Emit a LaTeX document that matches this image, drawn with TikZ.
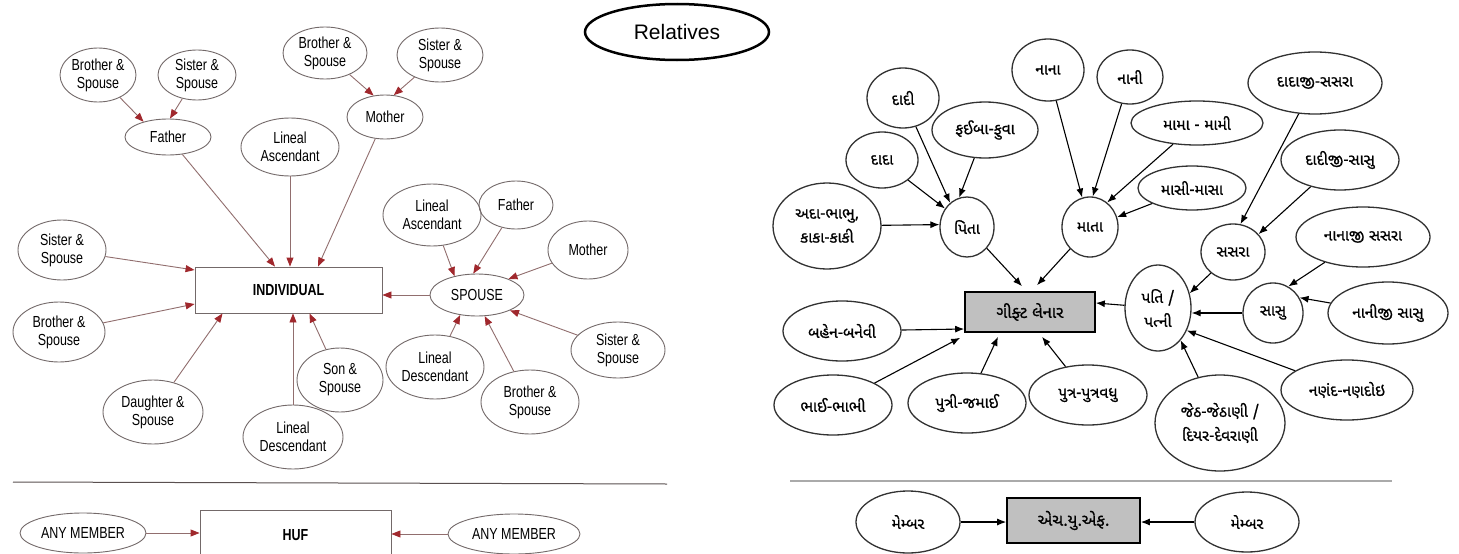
\documentclass[tikz,border=0pt]{standalone}
\usepackage{fontspec}
\usetikzlibrary{shapes.geometric,arrows.meta,calc}
\setmainfont{Liberation Sans}
\newfontfamily\narrowf[FakeStretch=0.78]{Liberation Sans}
\newfontfamily\guj[Script=Gujarati,FakeBold=0.8]{Noto Sans Gujarati UI}
\definecolor{lgrey}{RGB}{115,105,105}
\definecolor{lline}{RGB}{145,110,110}
\definecolor{tipred}{RGB}{160,40,45}
\definecolor{rgrey}{RGB}{50,50,50}
\definecolor{boxfill}{RGB}{192,192,192}
\definecolor{sepl}{RGB}{90,80,80}
\definecolor{sepr}{RGB}{170,170,170}
\tikzset{
  lell/.style={ellipse, draw=lgrey, line width=0.9pt, inner sep=0pt, align=center,
    font=\narrowf\fontsize{16}{18}\selectfont},
  lbox/.style={rectangle, draw=lgrey, line width=0.9pt, inner sep=0pt,
    font=\narrowf\bfseries\fontsize{16}{18}\selectfont},
  larr/.style={draw=lline, line width=0.9pt, -{Triangle[length=9pt,width=7pt,color=tipred]}},
  rell/.style={ellipse, draw=rgrey, line width=1.3pt, inner sep=0pt, align=center,
    font=\guj\fontsize{15.5}{24}\selectfont},
  rbox/.style={rectangle, draw=black, fill=boxfill, line width=1.6pt, inner sep=0pt,
    font=\guj\fontsize{16.5}{20}\selectfont},
  rarr/.style={draw=black, line width=1.1pt, -{Latex[length=9pt,width=7pt]}},
}
\begin{document}
\begin{tikzpicture}[x=1pt,y=-1pt]
\useasboundingbox (0,0) rectangle (1459,554);
\fill[white] (0,0) rectangle (1459,554);

% title
\node[ellipse, draw=black, line width=2.5pt, minimum width=184pt, minimum height=56pt, inner sep=0pt,
  font=\fontsize{21}{24}\selectfont] (rel) at (677,32) {Relatives};

% ---------------- left diagram ----------------
\node[lell, minimum width=76pt, minimum height=54pt] (bsf) at (98,75) {Brother \&\\Spouse};
\node[lell, minimum width=78pt, minimum height=50pt] (ssf) at (197,75) {Sister \&\\Spouse};
\node[lell, minimum width=86pt, minimum height=36pt] (father) at (168,137) {Father};
\node[lell, minimum width=98pt, minimum height=58pt] (lasc) at (290,147) {Lineal\\Ascendant};
\node[lell, minimum width=84pt, minimum height=52pt] (bsm) at (325,53) {Brother \&\\Spouse};
\node[lell, minimum width=86pt, minimum height=54pt] (ssm) at (440,55) {Sister \&\\Spouse};
\node[lell, minimum width=76pt, minimum height=44pt] (mother) at (385,117) {Mother};
\node[lell, minimum width=88pt, minimum height=60pt] (ssl) at (62,250) {Sister \&\\Spouse};
\node[lbox, minimum width=187pt, minimum height=46pt] (ind) at (288.5,290) {INDIVIDUAL};
\node[lell, minimum width=92pt, minimum height=60pt] (bsl) at (59,332) {Brother \&\\Spouse};
\node[lell, minimum width=100pt, minimum height=64pt] (dsl) at (153,412) {Daughter \&\\Spouse};
\node[lell, minimum width=100pt, minimum height=64pt] (ldesc) at (293,437) {Lineal\\Descendant};
\node[lell, minimum width=86pt, minimum height=64pt] (son) at (340,380) {Son \&\\Spouse};
\node[lell, minimum width=94pt, minimum height=42pt] (spouse) at (477,295) {SPOUSE};
\node[lell, minimum width=98pt, minimum height=62pt] (lasc2) at (432,215) {Lineal\\Ascendant};
\node[lell, minimum width=74pt, minimum height=48pt] (father2) at (516,205) {Father};
\node[lell, minimum width=80pt, minimum height=58pt] (mother2) at (588,250) {Mother};
\node[lell, minimum width=94pt, minimum height=56pt] (ss2) at (618,350) {Sister \&\\Spouse};
\node[lell, minimum width=98pt, minimum height=64pt] (bs2) at (530,402) {Brother \&\\Spouse};
\node[lell, minimum width=98pt, minimum height=64pt] (ldesc2) at (435,367) {Lineal\\Descendant};

\draw[larr] (bsf) -- (father.148);
\draw[larr] (ssf) -- ([xshift=2pt]father.north);
\draw[larr] (bsm) -- (mother.118);
\draw[larr] (ssm) -- (mother.68);
\draw[larr] (father) -- ([xshift=-13.5pt]ind.north);
\draw[larr] (lasc) -- (lasc |- ind.north);
\draw[larr] (mother) -- ([xshift=29.5pt]ind.north);
\draw[larr] (ssl) -- ([yshift=20pt]ind.west);
\draw[larr] (bsl) -- ([yshift=-14pt]ind.west);
\draw[larr] (dsl) -- ([xshift=-66pt]ind.south);
\draw[larr] (ldesc) -- (ldesc |- ind.south);
\draw[larr] (son) -- ([xshift=21pt]ind.south);
\draw[larr] (spouse) -- (spouse -| ind.east);
\draw[larr] (lasc2) -- (spouse.140);
\draw[larr] (father2) -- (spouse.100);
\draw[larr] (mother2) -- (spouse.27);
\draw[larr] (ss2) -- (spouse.-25);
\draw[larr] (bs2) -- (spouse.-70);
\draw[larr] (ldesc2) -- (spouse.-130);

\draw[draw=sepl, line width=1pt] (13,482) -- (667,484);

\node[lell, minimum width=126pt, minimum height=40pt] (any1) at (83,533) {ANY MEMBER};
\node[lbox, minimum width=191pt, minimum height=50pt, anchor=north] (huf) at (295.5,510) {HUF};
\node[lell, minimum width=132pt, minimum height=40pt] (any2) at (514,534) {ANY MEMBER};
\draw[larr] (any1) -- (any1 -| huf.west);
\draw[larr] (any2) -- (any2 -| huf.east);

% ---------------- right diagram ----------------
\node[rell, minimum width=72pt, minimum height=60pt] (dadi) at (903,98) {દાદી};
\node[rell, minimum width=106pt, minimum height=56pt] (faiba) at (985,130) {ફઈબા-ફુવા};
\node[rell, minimum width=72pt, minimum height=56pt] (dada) at (882,160) {દાદા};
\node[rell, minimum width=108pt, minimum height=86pt] (ada) at (827,226) {અદા-ભાભુ,\\કાકા-કાકી};
\node[rell, minimum width=54pt, minimum height=60pt] (pita) at (967,227) {પિતા};
\node[rell, minimum width=72pt, minimum height=62pt] (nana) at (1048,70) {નાના};
\node[rell, minimum width=66pt, minimum height=54pt] (nani) at (1130,77) {નાની};
\node[rell, minimum width=56pt, minimum height=60pt] (mata) at (1090,227) {માતા};
\node[rell, minimum width=132pt, minimum height=44pt] (mama) at (1197,123) {મામા - મામી};
\node[rell, minimum width=108pt, minimum height=44pt] (masi) at (1192,188) {માસી-માસા};
\node[rell, minimum width=134pt, minimum height=62pt] (dadajis) at (1315,83) {દાદાજી-સસરા};
\node[rell, minimum width=118pt, minimum height=60pt] (dadijis) at (1340,160) {દાદીજી-સાસુ};
\node[rell, minimum width=64pt, minimum height=56pt] (sasra) at (1233,252) {સસરા};
\node[rell, minimum width=134pt, minimum height=60pt] (nanajis) at (1363,237) {નાનાજી સસરા};
\node[rell, minimum width=60pt, minimum height=60pt] (sasu) at (1273,313) {સાસુ};
\node[rell, minimum width=120pt, minimum height=62pt] (nanijis) at (1388,313) {નાનીજી સાસુ};
\node[rell, minimum width=66pt, minimum height=86pt] (pati) at (1158,308) {પતિ /\\પત્ની};
\node[rbox, minimum width=130pt, minimum height=40pt] (gift) at (1030,312) {ગીફ્ટ લેનાર};
\node[rell, minimum width=118pt, minimum height=60pt] (bahen) at (842,331) {બહેન-બનેવી};
\node[rell, minimum width=118pt, minimum height=60pt] (bhai) at (833,405) {ભાઈ-ભાભી};
\node[rell, minimum width=118pt, minimum height=60pt] (putri) at (967,403) {પુત્રી-જમાઈ};
\node[rell, minimum width=118pt, minimum height=60pt] (putra) at (1088,395) {પુત્ર-પુત્રવધુ};
\node[rell, minimum width=130pt, minimum height=96pt] (jeth) at (1220,423) {જેઠ-જેઠાણી /\\દિયર-દેવરાણી};
\node[rell, minimum width=132pt, minimum height=60pt] (nanand) at (1347,390) {નણંદ-નણદોઇ};

\draw[rarr] (dadi) -- (pita.125);
\draw[rarr] (dada) -- (pita.140);
\draw[rarr] (faiba) -- (pita.105);
\draw[rarr] (ada) -- (pita.175);
\draw[rarr] (nana) -- (mata.105);
\draw[rarr] (nani) -- (mata.85);
\draw[rarr] (mama) -- (mata.55);
\draw[rarr] (masi) -- (mata.20);
\draw[rarr] (pita) -- ([xshift=-8pt,yshift=5pt]gift.north);
\draw[rarr] (mata) -- ([xshift=7pt,yshift=6pt]gift.north);
\draw[rarr] (dadajis) -- (sasra.75);
\draw[rarr] (dadijis) -- (sasra.35);
\draw[rarr] (nanajis) -- (sasu.60);
\draw[rarr] (nanijis) -- (sasu.30);
\draw[rarr] (sasra) -- (pati.25);
\draw[rarr] (sasu) -- (sasu -| pati.east);
\draw[rarr] (jeth) -- (pati.-55);
\draw[rarr] (nanand) -- (pati.-38);
\draw[rarr] (pati) -- ([yshift=9pt]gift.east);
\draw[rarr] (bahen) -- ([yshift=-17pt]gift.west);
\draw[rarr] (bhai) -- ([xshift=-4pt,yshift=-5pt]gift.south west);
\draw[rarr] (putri) -- ([xshift=-32pt,yshift=-4pt]gift.south);
\draw[rarr] (putra) -- ([xshift=12pt,yshift=-4pt]gift.south);

\draw[draw=sepr, line width=1.2pt] (790,481) -- (1392,481);

\node[rell, minimum width=104pt, minimum height=62pt] (mem1) at (908,522) {મેમ્બર};
\node[rbox, minimum width=133pt, minimum height=45pt] (huf2) at (1073.5,520.5) {એચ.યુ.એફ.};
\node[rell, minimum width=104pt, minimum height=60pt] (mem2) at (1247,522) {મેમ્બર};
\draw[rarr] (mem1) -- (mem1 -| huf2.west);
\draw[rarr] (mem2) -- (mem2 -| huf2.east);
\end{tikzpicture}
\end{document}
